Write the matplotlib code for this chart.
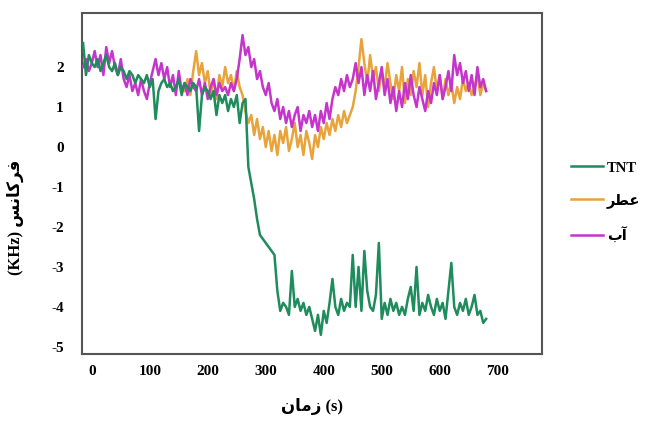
import numpy as np
import matplotlib
matplotlib.use("Agg")
import matplotlib.pyplot as plt

plt.rcParams['font.family'] = ['Liberation Serif', 'DejaVu Sans']
plt.rcParams['font.weight'] = 'bold'
plt.rcParams['axes.unicode_minus'] = False

# time axis (s)
t_all = np.arange(-15, 681, 5)
t_atr = np.arange(160, 681, 5)

tnt = [
    2.6, 1.8, 2.3, 2.1, 2.0, 2.2, 1.9, 2.1, 2.3, 2.0,
    1.9, 2.1, 1.8, 2.0, 1.9, 1.7, 1.9, 1.8, 1.6, 1.8,
    1.7, 1.6, 1.8, 1.5, 1.7, 0.7, 1.4, 1.6, 1.7, 1.5,
    1.6, 1.4, 1.5, 1.7, 1.3, 1.6, 1.5, 1.4, 1.6, 1.5,
    0.4, 1.3, 1.5, 1.4, 1.2, 1.4, 0.8, 1.3, 1.1, 1.3,
    0.9, 1.2, 1.0, 1.3, 0.6, 1.1, 1.2, -0.5, -0.9, -1.3,
    -1.8, -2.2, -2.3, -2.4, -2.5, -2.6, -2.7, -3.6, -4.1, -3.9,
    -4.0, -4.2, -3.1, -4.0, -3.8, -4.1, -3.9, -4.2, -4.0, -4.3,
    -4.6, -4.2, -4.7, -4.1, -4.4, -3.9, -3.3, -4.0, -4.2, -3.8,
    -4.1, -3.9, -4.0, -2.7, -4.0, -3.0, -4.1, -2.6, -3.6, -4.0,
    -4.1, -3.7, -2.4, -4.3, -3.9, -4.2, -3.8, -4.1, -3.9, -4.2,
    -4.0, -4.2, -3.8, -3.5, -4.1, -3.0, -4.2, -3.9, -4.1, -3.7,
    -4.0, -4.2, -3.8, -4.1, -3.9, -4.3, -3.6, -2.9, -4.0, -4.2,
    -3.9, -4.1, -3.8, -4.2, -4.0, -3.7, -4.2, -4.1, -4.4, -4.3,
]

atr = [
    1.4, 1.7, 1.3, 1.9, 2.4, 1.8, 2.1, 1.6, 1.9, 1.3,
    1.7, 1.2, 1.8, 1.5, 2.0, 1.6, 1.8, 1.4, 1.9, 1.5,
    1.3, 0.9, 0.6, 0.8, 0.3, 0.7, 0.2, 0.5, 0.0, 0.4,
    -0.1, 0.3, -0.2, 0.4, 0.1, 0.5, -0.1, 0.2, 0.6, 0.0,
    0.3, -0.2, 0.4, 0.1, -0.3, 0.3, 0.0, 0.5, 0.2, 0.6,
    0.3, 0.7, 0.4, 0.8, 0.5, 0.9, 0.6, 0.8, 1.0, 1.4,
    2.0, 2.7, 2.1, 1.6, 2.3, 1.7, 2.0, 1.4, 1.9, 1.5,
    2.1, 1.6, 1.2, 1.8, 1.4, 2.0, 1.1, 1.7, 1.3, 1.9,
    1.5, 2.1, 1.3, 1.8, 1.0, 1.6, 2.0, 1.4, 1.8, 1.2,
    1.7, 1.3, 1.6, 1.1, 1.5, 1.2, 1.7, 1.4, 1.6, 1.3,
    1.5, 1.8, 1.3, 1.6, 1.4,
]

ab = [
    2.0, 2.2, 1.9, 2.1, 2.4, 2.0, 2.3, 1.8, 2.5, 2.1,
    2.4, 2.0, 1.8, 2.2, 1.7, 1.5, 1.8, 1.4, 1.6, 1.3,
    1.7, 1.4, 1.2, 1.6, 1.9, 2.2, 1.8, 2.1, 1.7, 2.0,
    1.5, 1.8, 1.3, 1.9, 1.4, 1.6, 1.3, 1.7, 1.5, 1.4,
    1.7, 1.3, 1.6, 1.2, 1.5, 1.7, 1.3, 1.6, 1.4, 1.5,
    1.3, 1.6, 1.4, 1.7, 2.2, 2.8, 2.3, 2.5, 2.0, 2.2,
    1.7, 1.9, 1.5, 1.3, 1.6, 1.1, 0.9, 1.2, 0.7, 1.0,
    0.6, 0.9, 0.5, 0.8, 1.0, 0.4, 0.8, 0.6, 0.9, 0.5,
    0.8, 0.4, 0.9, 0.6, 1.1, 0.7, 1.2, 1.5, 1.3, 1.7,
    1.4, 1.8, 1.5, 1.7, 2.1, 1.6, 2.0, 1.3, 1.8, 1.4,
    1.9, 1.2, 1.6, 2.0, 1.3, 1.7, 1.1, 1.5, 0.9, 1.4,
    1.0, 1.6, 1.2, 1.8, 1.3, 1.0, 1.5, 1.2, 0.9, 1.4,
    1.1, 1.6, 1.3, 1.8, 1.2, 1.5, 1.9, 1.4, 2.3, 1.8,
    2.1, 1.6, 1.9, 1.4, 1.8, 1.3, 2.0, 1.5, 1.7, 1.4,
]

x_ticks = [0, 100, 200, 300, 400, 500, 600, 700]
y_ticks = [2, 1, 0, -1, -2, -3, -4, -5]

# Persian labels written in visual order with presentation forms
lbl_tnt = "TNT"
lbl_atr = "\uFEAE\uFEC4\uFECB"            # عطر
lbl_ab = "\uFE8F\uFE81"                   # آب
xlabel = "\uFEE5\uFE8E\uFEE3\uFEAF (s)"   # زمان (s)
ylabel = "(KHz) \uFEB2\uFEE7\uFE8E\uFB90\uFEAE\uFED3"  # فرکانس (KHz)

c_tnt = '#1e8c5c'
c_atr = '#e8a33a'
c_ab = '#c535cc'

fig = plt.figure(figsize=(6.45, 4.23), dpi=100)
ax = fig.add_axes([0.127, 0.163, 0.713, 0.806])

ax.plot(t_atr, atr, color=c_atr, lw=1.8, label=lbl_atr, zorder=2)
ax.plot(t_all, ab, color=c_ab, lw=1.8, label=lbl_ab, zorder=3)
ax.plot(t_all, tnt, color=c_tnt, lw=1.8, label=lbl_tnt, zorder=4)

ax.set_xlim(-17, 776)
ax.set_ylim(-5.18, 3.35)
ax.set_xticks(x_ticks)
ax.set_yticks(y_ticks)
ax.tick_params(axis='y', length=0, labelsize=11, pad=13)
ax.tick_params(axis='x', length=0, labelsize=11, pad=8)
for s in ax.spines.values():
    s.set_color('#555555')
    s.set_linewidth(1.5)

ax.set_xlabel(xlabel, fontsize=12, fontweight='bold', labelpad=14)
ax.set_ylabel(ylabel, fontsize=12, fontweight='bold')
ax.yaxis.set_label_coords(-0.125, 0.40)

h, l = ax.get_legend_handles_labels()
order = [2, 0, 1]
ax.legend([h[i] for i in order], [l[i] for i in order], loc='center left',
          bbox_to_anchor=(1.035, 0.445), frameon=False, handlelength=2.2,
          handletextpad=0.25, labelspacing=1.3,
          prop={'size': 10.5, 'weight': 'bold'})

fig.savefig('out.png', dpi=100)
